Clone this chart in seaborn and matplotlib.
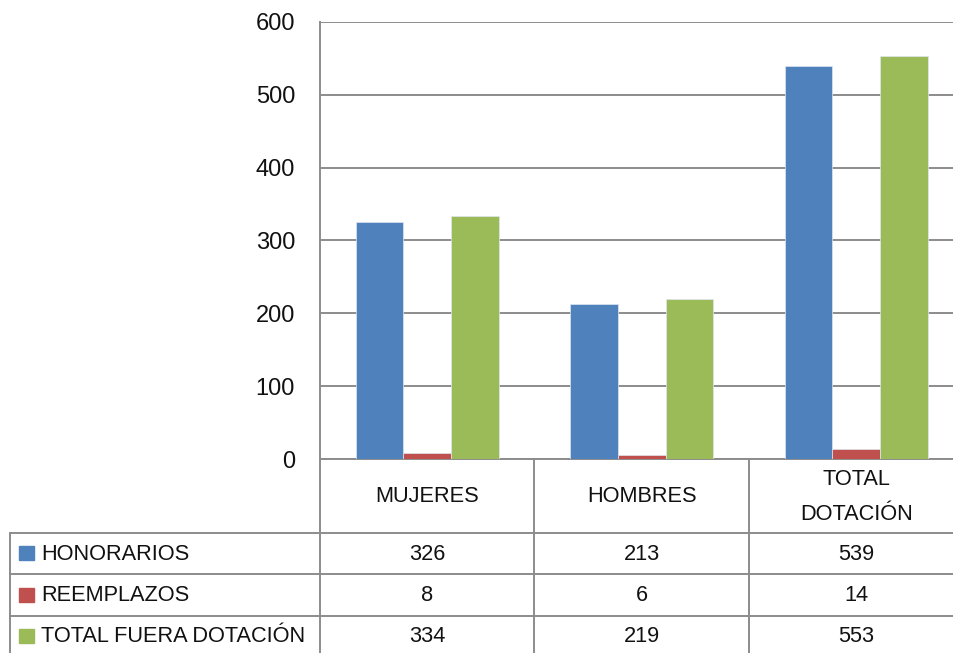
import matplotlib
matplotlib.use("Agg")
import matplotlib.pyplot as plt
import seaborn as sns
import pandas as pd

categories = ["MUJERES", "HOMBRES", "TOTAL\nDOTACIÓN"]
series = ["HONORARIOS", "REEMPLAZOS", "TOTAL FUERA DOTACIÓN"]
honorarios = [326, 213, 539]
reemplazos = [8, 6, 14]
total_fuera = [334, 219, 553]
yticks = [0, 100, 200, 300, 400, 500, 600]
colors = ["#4F81BD", "#C0504D", "#9BBB59"]

values = [honorarios, reemplazos, total_fuera]
df = pd.DataFrame(
    [(c, s, v[i]) for s, v in zip(series, values) for i, c in enumerate(categories)],
    columns=["cat", "serie", "val"],
)

sns.set_style("white")
plt.rcParams["font.family"] = ["Liberation Sans", "DejaVu Sans"]
FS = 15.7
TFS = 17
TXT = "#111111"

W, H = 954, 653
fig = plt.figure(figsize=(W / 100, H / 100), dpi=100)

# main chart axes (pixel layout)
x0, x1 = 320, 320 + 3 * 214.5
ytop, ybot = 22, 459
ax = fig.add_axes([x0 / W, (H - ybot) / H, (x1 - x0) / W, (ybot - ytop) / H])
sns.barplot(data=df, x="cat", y="val", hue="serie", palette=colors, saturation=1,
            width=3 / 4.5, ax=ax, legend=False, edgecolor="#dfe6f0", linewidth=0.5,
            zorder=3)
ax.set_ylim(0, 600)
ax.set_xlim(-0.5, 2.5)
ax.set_yticks(yticks)
ax.set_yticklabels([str(t) for t in yticks], fontsize=TFS, color=TXT)
ax.set_xticks([])
ax.set_xlabel("")
ax.set_ylabel("")
ax.tick_params(axis="y", length=0, pad=18)
ax.grid(axis="y", color="#8c8c8c", linewidth=1.4, zorder=0)
for s in ["top", "right"]:
    ax.spines[s].set_visible(False)
for s in ["left", "bottom"]:
    ax.spines[s].set_color("#8c8c8c")
    ax.spines[s].set_linewidth(1.4)

# data table drawn in a pixel-coordinate overlay axes
tax = fig.add_axes([0, 0, 1, 1], zorder=-1)
tax.set_xlim(0, W)
tax.set_ylim(H, 0)
tax.axis("off")
lc = "#8c8c8c"
lw = 1.4
col_edges = [x0 + i * 214.5 for i in range(4)]
row_edges = [533, 574, 616, 657]
for xe in col_edges:
    tax.plot([xe, xe], [ybot, H + 5], color=lc, lw=lw)
for ye in row_edges:
    tax.plot([10, W + 5], [ye, ye], color=lc, lw=lw)
tax.plot([10, 10], [row_edges[0], H + 5], color=lc, lw=lw)

# header labels
for i, c in enumerate(categories):
    cx = (col_edges[i] + col_edges[i + 1]) / 2
    tax.text(cx, (ybot + row_edges[0]) / 2 + 1, c, ha="center", va="center",
             fontsize=FS, color=TXT, linespacing=1.85)

# rows
for r, (s, v, col) in enumerate(zip(series, values, colors)):
    cy = (row_edges[r] + row_edges[r + 1]) / 2
    tax.add_patch(plt.Rectangle((19, cy - 7.5), 15, 14, color=col))
    tax.text(41, cy + 0.5, s, ha="left", va="center", fontsize=FS, color=TXT)
    for i in range(3):
        cx = (col_edges[i] + col_edges[i + 1]) / 2
        tax.text(cx, cy + 0.5, str(v[i]), ha="center", va="center", fontsize=FS, color=TXT)

fig.savefig("out.png", dpi=100)
